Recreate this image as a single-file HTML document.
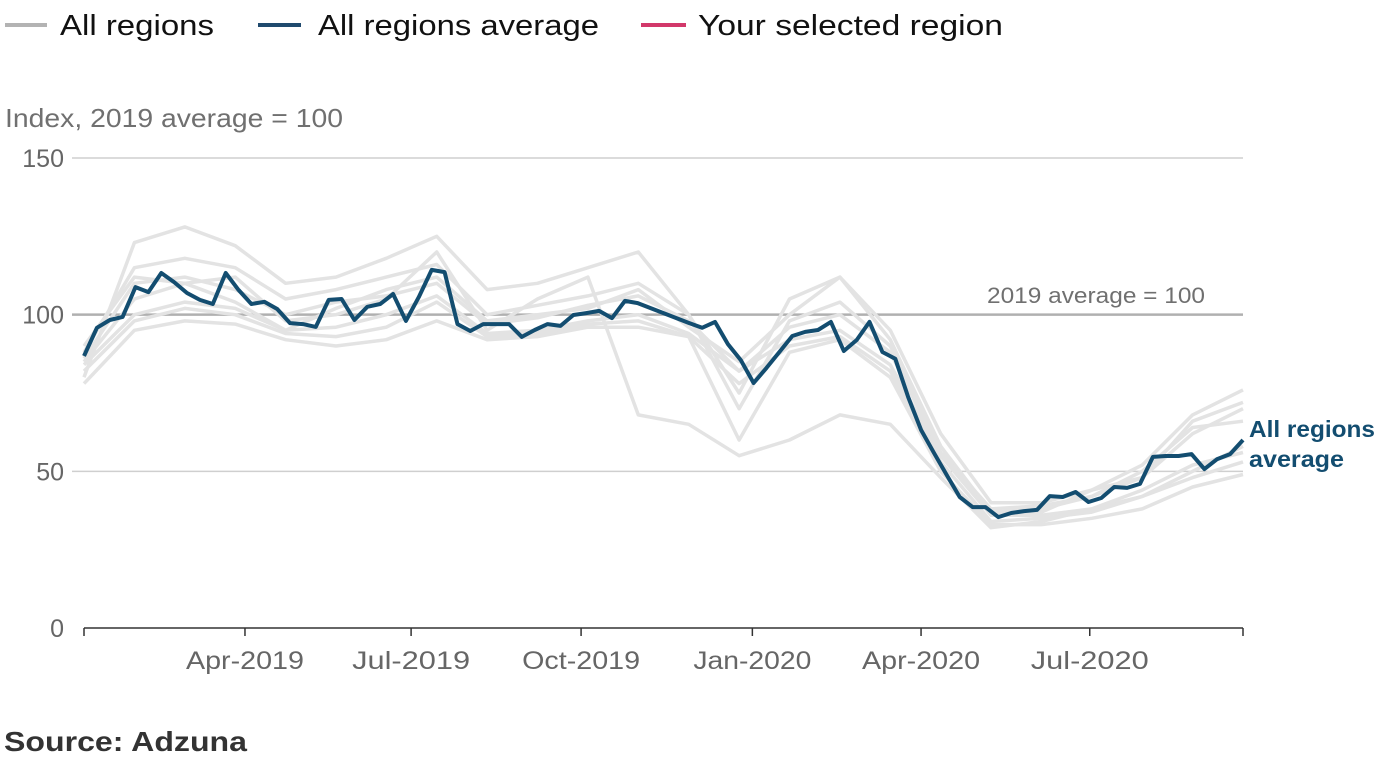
<!DOCTYPE html>
<html><head><meta charset="utf-8"><style>
html,body{margin:0;padding:0;background:#fff;}
svg{display:block;font-family:"Liberation Sans",sans-serif;}
</style></head><body>
<svg id="chart" width="1384" height="763" viewBox="0 0 1384 763">
<g>
<g><line x1="5" y1="25" x2="47" y2="25" stroke="#b3b3b3" stroke-width="4"/><text x="60" y="35" font-size="29" fill="#111" textLength="154" lengthAdjust="spacingAndGlyphs">All regions</text></g>
<g><line x1="258" y1="25" x2="301" y2="25" stroke="#204a6e" stroke-width="4"/><text x="318" y="35" font-size="29" fill="#111" textLength="281" lengthAdjust="spacingAndGlyphs">All regions average</text></g>
<g><line x1="641" y1="25" x2="686" y2="25" stroke="#d2386a" stroke-width="4"/><text x="698" y="35" font-size="29" fill="#111" textLength="305" lengthAdjust="spacingAndGlyphs">Your selected region</text></g>
</g>
<text x="5" y="127" font-size="26" fill="#707070" textLength="338" lengthAdjust="spacingAndGlyphs">Index, 2019 average = 100</text>
<g id="grid"></g>
<g id="series"></g>
<g id="xaxis"></g>
<text x="1205" y="303" font-size="22" fill="#707070" text-anchor="end" textLength="218" lengthAdjust="spacingAndGlyphs">2019 average = 100</text>
<text x="1249" y="437" font-size="23" font-weight="bold" fill="#134d70" textLength="126" lengthAdjust="spacingAndGlyphs">All regions</text>
<text x="1249" y="467" font-size="23" font-weight="bold" fill="#134d70" textLength="95" lengthAdjust="spacingAndGlyphs">average</text>
<text x="4" y="751" font-size="28" font-weight="bold" fill="#333" textLength="243" lengthAdjust="spacingAndGlyphs">Source: Adzuna</text>
</svg>
<script>
const yTicks = [0, 50, 100, 150];
const xTickLabels = ["Apr-2019","Jul-2019","Oct-2019","Jan-2020","Apr-2020","Jul-2020"];
const xTickWeeks = [12.5, 25.4, 38.6, 51.9, 65.0, 78.1];
const averageValues = [86.8,95.8,98.3,99.3,108.8,107.2,113.3,110.4,106.9,104.7,103.4,113.3,107.9,103.4,104.1,101.8,97.3,97.0,96.1,104.7,105.0,98.3,102.5,103.4,106.6,98.0,105.6,114.3,113.6,97.0,94.8,97.0,97.0,97.0,92.9,95.1,97.0,96.4,99.9,100.5,101.2,98.9,104.4,103.7,102.1,100.5,98.9,97.3,95.8,97.7,90.6,85.5,78.2,83.0,88.1,93.2,94.5,95.1,97.7,88.4,91.9,97.7,88.1,85.9,73.7,63.2,55.9,48.8,41.8,38.6,38.6,35.4,36.7,37.3,37.7,42.1,41.8,43.4,40.2,41.5,45.0,44.7,46.0,54.6,54.9,54.9,55.5,50.7,53.9,55.5,60.0];
const region1 = [80,123,128,122,110,112,118,125,108,110,115,120,100,75,105,112,92,58,36,37,44,52,68,76];
const region2 = [78,95,98,97,92,90,92,98,92,93,96,96,93,60,88,92,80,50,33,33,35,38,45,49];
const region3 = [85,105,110,112,98,100,105,120,95,105,112,68,65,55,60,68,65,48,32,34,38,42,50,58];
const region4 = [90,112,110,104,95,102,108,112,98,100,102,108,96,85,100,112,95,62,40,40,44,48,66,72];
const region5 = [84,100,104,102,95,96,100,106,94,95,98,100,94,82,92,95,84,55,36,36,38,44,52,56];
const region6 = [88,115,118,115,105,108,112,116,100,103,106,110,100,70,98,104,90,58,37,38,42,48,62,70];
const region7 = [82,98,102,100,94,93,96,104,93,94,97,98,93,78,90,93,82,53,34,35,37,42,48,53];
const region8 = [86,110,112,108,100,104,106,110,97,99,103,106,98,82,96,100,88,56,38,39,42,50,64,66];
const regions = [region1,region2,region3,region4,region5,region6,region7,region8];

const NS = "http://www.w3.org/2000/svg";
const X0 = 84, X1 = 1243, Y0 = 628, Y150 = 158;
const nW = averageValues.length - 1;
function xScale(w){ return X0 + (X1 - X0) * w / nW; }
function yScale(v){ return Y0 - (Y0 - Y150) * v / 150; }
function mk(tag, attrs, parent){ const e = document.createElementNS(NS, tag); for (const k in attrs) e.setAttribute(k, attrs[k]); parent.appendChild(e); return e; }

const grid = document.getElementById("grid");
yTicks.forEach(t => {
  if (t > 0) {
    const ln = mk("line", {x1:72, x2:1243, y1:yScale(t), y2:yScale(t), stroke: t===100?"#b0b0b0":"#cfcfcf", "stroke-width": t===100?2.5:1.5}, grid);
    
    
  }
  const tx = mk("text", {x:64, y:yScale(t)+9, "font-size":25, fill:"#666", "text-anchor":"end"}, grid);
  tx.textContent = t;
  
  
});

const series = document.getElementById("series");
regions.forEach(r => {
  const n = r.length - 1;
  const pts = r.map((v,i) => (X0 + (X1-X0)*i/n).toFixed(1) + "," + yScale(v).toFixed(1)).join(" ");
  const pl = mk("polyline", {points:pts, fill:"none", stroke:"#e3e3e3", "stroke-width":3.5, "stroke-linejoin":"round"}, series);
  
  
});
const apts = averageValues.map((v,i) => xScale(i).toFixed(1) + "," + yScale(v).toFixed(1)).join(" ");
const avg = mk("polyline", {points:apts, fill:"none", stroke:"#134d70", "stroke-width":4, "stroke-linejoin":"round"}, series);



const xaxis = document.getElementById("xaxis");
const axl = mk("line", {x1:X0, x2:X1, y1:Y0, y2:Y0, stroke:"#333", "stroke-width":1.5}, xaxis);


[0, ...xTickWeeks, nW].forEach(w => {
  const tk = mk("line", {x1:xScale(w), x2:xScale(w), y1:Y0, y2:Y0+8, stroke:"#333", "stroke-width":1.5}, xaxis);
  
  
});
xTickLabels.forEach((lab,i) => {
  const tx = mk("text", {x:xScale(xTickWeeks[i]), y:669, "font-size":25, fill:"#666", "text-anchor":"middle", textLength:118, lengthAdjust:"spacingAndGlyphs"}, xaxis);
  tx.textContent = lab;
  
  
});
</script>
</body></html>
